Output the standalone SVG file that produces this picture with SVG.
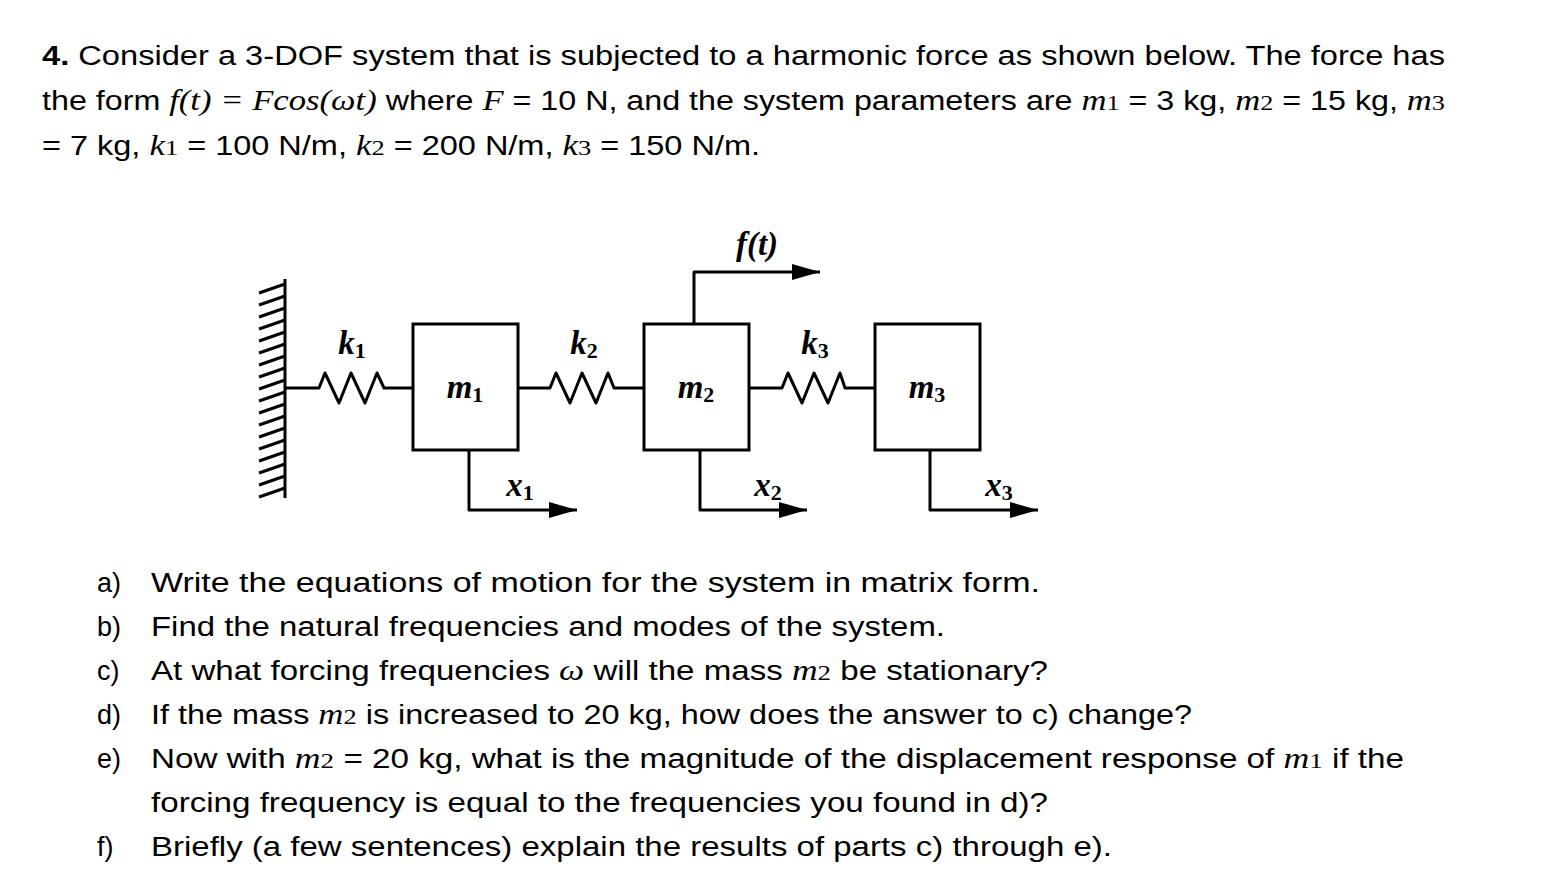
<svg xmlns="http://www.w3.org/2000/svg" width="1562" height="880" viewBox="0 0 1562 880">
<defs>
<style>
.t{font-family:"Liberation Sans",Arial,sans-serif;font-size:27px;fill:#000}
.i{font-family:"Liberation Serif","Times New Roman",serif;font-style:italic;font-size:29px}
.s{font-family:"Liberation Serif","Times New Roman",serif;font-size:22px}
.lb{font-family:"Liberation Serif","Times New Roman",serif;font-style:italic;font-weight:bold;font-size:33px;fill:#000}
.sb{font-size:22px;font-style:normal}
.ln{stroke:#000;stroke-width:3;fill:none;stroke-linejoin:round}
.bx{stroke:#000;stroke-width:3;fill:#fff}
</style>
<marker id="a" viewBox="0 0 28 16" refX="28" refY="8" markerWidth="28" markerHeight="16" orient="auto" markerUnits="userSpaceOnUse"><path d="M0,0 L28,8 L0,16 z" fill="#000"/></marker>
</defs>
<rect width="1562" height="880" fill="#fff"/>

<g id="problem-text">
<text class="t" x="42" y="65" textLength="1403" lengthAdjust="spacingAndGlyphs"><tspan font-weight="bold">4.</tspan> Consider a 3-DOF system that is subjected to a harmonic force as shown below.  The force has</text>
<text class="t" x="42" y="110" textLength="1403" lengthAdjust="spacingAndGlyphs">the form <tspan class="i">f</tspan><tspan class="i" font-style="normal">(</tspan><tspan class="i">t</tspan><tspan class="i" font-style="normal">) = </tspan><tspan class="i">F</tspan><tspan class="i" font-style="normal">cos(</tspan><tspan class="i">ωt</tspan><tspan class="i" font-style="normal">)</tspan> where <tspan class="i">F</tspan> = 10 N, and the system parameters are <tspan class="i">m</tspan><tspan class="s">1</tspan> = 3 kg, <tspan class="i">m</tspan><tspan class="s">2</tspan> = 15 kg, <tspan class="i">m</tspan><tspan class="s">3</tspan></text>
<text class="t" x="42" y="155" textLength="718" lengthAdjust="spacingAndGlyphs">= 7 kg, <tspan class="i">k</tspan><tspan class="s">1</tspan> = 100 N/m, <tspan class="i">k</tspan><tspan class="s">2</tspan> = 200 N/m, <tspan class="i">k</tspan><tspan class="s">3</tspan> = 150 N/m.</text>
</g>

<g id="wall">
<line class="ln" x1="285" y1="279" x2="285" y2="498"/>
<path class="ln" stroke-width="2.5" d="M285,284 l-26,9 M285,296 l-26,9 M285,308 l-26,9 M285,320 l-26,9 M285,332 l-26,9 M285,344 l-26,9 M285,356 l-26,9 M285,368 l-26,9 M285,380 l-26,9 M285,392 l-26,9 M285,404 l-26,9 M285,416 l-26,9 M285,428 l-26,9 M285,440 l-26,9 M285,452 l-26,9 M285,464 l-26,9 M285,476 l-26,9 M285,488 l-26,9"/>
</g>

<g id="springs">
<polyline id="k1-spring" class="ln" points="285,388 319,388 325,373 339,403 351,373 365,403 377,373 384,388 413,388"/>
<polyline id="k2-spring" class="ln" points="518,388 550,388 556,373 570,403 582,373 596,403 608,373 614,388 644,388"/>
<polyline id="k3-spring" class="ln" points="749,388 782,388 788,373 802,403 814,373 828,403 840,373 845,388 875,388"/>
</g>

<g id="m1"><rect class="bx" x="413" y="324" width="105" height="126"/><text class="lb" x="465" y="398" text-anchor="middle">m<tspan class="sb" dy="4">1</tspan></text></g>
<g id="m2"><rect class="bx" x="644" y="324" width="105" height="126"/><text class="lb" x="696" y="398" text-anchor="middle">m<tspan class="sb" dy="4">2</tspan></text></g>
<g id="m3"><rect class="bx" x="875" y="324" width="105" height="126"/><text class="lb" x="927" y="398" text-anchor="middle">m<tspan class="sb" dy="4">3</tspan></text></g>

<g id="connectors">
<polyline class="ln" points="694,324 694,272 820,272" marker-end="url(#a)"/>
<polyline class="ln" points="469,450 469,510 577,510" marker-end="url(#a)"/>
<polyline class="ln" points="700,450 700,510 807,510" marker-end="url(#a)"/>
<polyline class="ln" points="930,450 930,510 1038,510" marker-end="url(#a)"/>
</g>

<g id="labels">
<text class="lb" x="757" y="255" text-anchor="middle">f(t)</text>
<text class="lb" x="352" y="354" text-anchor="middle">k<tspan class="sb" dy="4">1</tspan></text>
<text class="lb" x="584" y="354" text-anchor="middle">k<tspan class="sb" dy="4">2</tspan></text>
<text class="lb" x="815" y="354" text-anchor="middle">k<tspan class="sb" dy="4">3</tspan></text>
<text class="lb" x="520" y="496" text-anchor="middle">x<tspan class="sb" dy="4">1</tspan></text>
<text class="lb" x="768" y="496" text-anchor="middle">x<tspan class="sb" dy="4">2</tspan></text>
<text class="lb" x="999" y="496" text-anchor="middle">x<tspan class="sb" dy="4">3</tspan></text>
</g>

<g id="questions">
<text class="t" x="97" y="592">a)</text><text class="t" x="151" y="592" textLength="889" lengthAdjust="spacingAndGlyphs">Write the equations of motion for the system in matrix form.</text>
<text class="t" x="97" y="636">b)</text><text class="t" x="151" y="636" textLength="794" lengthAdjust="spacingAndGlyphs">Find the natural frequencies and modes of the system.</text>
<text class="t" x="97" y="680">c)</text><text class="t" x="151" y="680" textLength="897" lengthAdjust="spacingAndGlyphs">At what forcing frequencies <tspan class="i">ω</tspan> will the mass <tspan class="i">m</tspan><tspan class="s">2</tspan> be stationary?</text>
<text class="t" x="97" y="724">d)</text><text class="t" x="151" y="724" textLength="1041" lengthAdjust="spacingAndGlyphs">If the mass <tspan class="i">m</tspan><tspan class="s">2</tspan> is increased to 20 kg, how does the answer to c) change?</text>
<text class="t" x="97" y="768">e)</text><text class="t" x="151" y="768" textLength="1253" lengthAdjust="spacingAndGlyphs">Now with <tspan class="i">m</tspan><tspan class="s">2</tspan> = 20 kg, what is the magnitude of the displacement response of <tspan class="i">m</tspan><tspan class="s">1</tspan> if the</text>
<text class="t" x="151" y="812" textLength="897" lengthAdjust="spacingAndGlyphs">forcing frequency is equal to the frequencies you found in d)?</text>
<text class="t" x="97" y="856">f)</text><text class="t" x="151" y="856" textLength="961" lengthAdjust="spacingAndGlyphs">Briefly (a few sentences) explain the results of parts c) through e).</text>
</g>
</svg>
